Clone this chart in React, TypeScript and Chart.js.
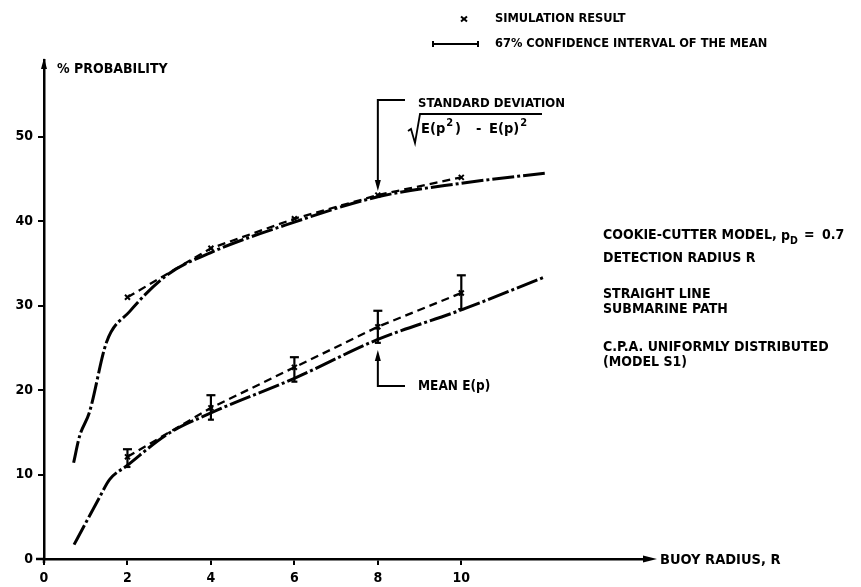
import React, { useEffect, useRef } from "react";
import { Chart, registerables } from "chart.js";

Chart.register(...registerables);

// ---- data ----
const radiusStd = [0.71, 0.85, 1.09, 1.5, 2.05, 2.94, 4, 6, 8, 10, 12];
const stdDev = [11.4, 14.5, 17.4, 25.7, 29.3, 33.6, 36.3, 39.9, 42.9, 44.5, 45.7];
const radiusMean = [0.72, 0.97, 1.33, 1.57, 2, 2.93, 4, 6, 8, 10, 12];
const meanP = [1.7, 4.0, 7.3, 9.4, 11.1, 14.7, 17.3, 21.4, 26.0, 29.5, 33.4];
const simRadius = [2, 4, 6, 8, 10];
const simStd = [31.0, 36.8, 40.3, 43.1, 45.2];
const simMean = [12.1, 17.9, 22.7, 27.5, 31.5];
const ciLow = [10.9, 16.5, 21.0, 25.6, 29.6];
const ciHigh = [13.0, 19.4, 23.9, 29.4, 33.6];
const xTicks = [0, 2, 4, 6, 8, 10];
const yTicks = [0, 10, 20, 30, 40, 50];

const FAMILY = '"DejaVu Sans Condensed", "Liberation Sans Narrow", sans-serif';
const font = (size: number) => `bold ${size}px ${FAMILY}`;
const FS = 13;

function drawText(ctx: CanvasRenderingContext2D, s: string, x: number, y: number, size = FS) {
  ctx.font = font(size);
  ctx.textAlign = "left";
  ctx.textBaseline = "middle";
  ctx.fillText(s, x, y);
  return x + ctx.measureText(s).width;
}

function line(ctx: CanvasRenderingContext2D, pts: number[][]) {
  ctx.beginPath();
  ctx.moveTo(pts[0][0], pts[0][1]);
  for (let i = 1; i < pts.length; i++) ctx.lineTo(pts[i][0], pts[i][1]);
  ctx.stroke();
}

function tri(ctx: CanvasRenderingContext2D, pts: number[][]) {
  ctx.beginPath();
  ctx.moveTo(pts[0][0], pts[0][1]);
  ctx.lineTo(pts[1][0], pts[1][1]);
  ctx.lineTo(pts[2][0], pts[2][1]);
  ctx.closePath();
  ctx.fill();
}

const overlay = {
  id: "overlay",
  beforeDraw(chart: any) {
    const c = chart.ctx;
    c.save();
    c.fillStyle = "#fff";
    c.fillRect(0, 0, chart.width, chart.height);
    c.restore();
  },
  afterDraw(chart: any) {
    const ctx: CanvasRenderingContext2D = chart.ctx;
    const xs = chart.scales.x;
    const ys = chart.scales.y;
    const a = chart.chartArea;
    ctx.save();
    ctx.strokeStyle = "#000";
    ctx.fillStyle = "#000";
    ctx.lineCap = "butt";

    // axis arrows and stubs
    ctx.lineWidth = 2.5;
    line(ctx, [[a.left - 8, a.bottom], [a.left, a.bottom]]);
    line(ctx, [[a.left, a.bottom], [a.left, a.bottom + 4]]);
    tri(ctx, [[a.left, a.top - 2], [a.left - 3, a.top + 9], [a.left + 3, a.top + 9]]);
    tri(ctx, [[a.right + 10, a.bottom], [a.right - 4, a.bottom - 3.5], [a.right - 4, a.bottom + 3.5]]);
    drawText(ctx, "% PROBABILITY", a.left + 13, 69, 14);
    drawText(ctx, "BUOY RADIUS, R", a.right + 13, a.bottom + 1, 14.5);

    // error bars (67% confidence interval)
    ctx.lineWidth = 2.2;
    simRadius.forEach((r, i) => {
      const px = xs.getPixelForValue(r);
      const t = ys.getPixelForValue(ciHigh[i]);
      const b = ys.getPixelForValue(ciLow[i]);
      line(ctx, [[px, t], [px, b]]);
      line(ctx, [[px - 4.5, t], [px + 4.5, t]]);
      line(ctx, [[px - 3, b], [px + 3, b]]);
    });

    // legend
    ctx.lineWidth = 2;
    const mx = 464, my = 19;
    line(ctx, [[mx - 3, my - 2.5], [mx + 3, my + 2.5]]);
    line(ctx, [[mx - 3, my + 2.5], [mx + 3, my - 2.5]]);
    drawText(ctx, "SIMULATION RESULT", 495, my, 12.7);
    const ly = 44;
    line(ctx, [[433, ly], [478, ly]]);
    line(ctx, [[433, ly - 3], [433, ly + 3]]);
    line(ctx, [[478, ly - 3], [478, ly + 3]]);
    drawText(ctx, "67% CONFIDENCE INTERVAL OF THE MEAN", 495, ly, 12.7);

    // standard deviation annotation
    const x8 = xs.getPixelForValue(8);
    ctx.lineWidth = 2;
    line(ctx, [[405, 100], [x8, 100], [x8, 182]]);
    tri(ctx, [[x8, 191], [x8 - 3, 180], [x8 + 3, 180]]);
    drawText(ctx, "STANDARD DEVIATION", 418, 104);
    ctx.lineWidth = 1.8;
    line(ctx, [[408, 131], [411, 129], [415, 143], [420, 114], [542, 114]]);
    let cx = drawText(ctx, "E(p", 421, 129, 14.5);
    cx = drawText(ctx, "2", cx + 1, 123, 11);
    drawText(ctx, ")", cx + 2, 129, 14.5);
    drawText(ctx, "-", 476, 129, 14.5);
    cx = drawText(ctx, "E(p)", 489, 129, 14.5);
    drawText(ctx, "2", cx + 1, 123, 11);

    // mean annotation
    ctx.lineWidth = 2;
    line(ctx, [[x8, 358], [x8, 386], [405, 386]]);
    tri(ctx, [[x8, 350], [x8 - 3, 361], [x8 + 3, 361]]);
    drawText(ctx, "MEAN E(p)", 418, 386, 13.5);

    // model description
    const tx = 603;
    const RS = 14;
    drawText(ctx, "COOKIE-CUTTER MODEL,", tx, 235, RS);
    cx = drawText(ctx, "p", 781, 236, RS);
    drawText(ctx, "D", cx, 241, 10.5);
    drawText(ctx, "=", 804, 235, RS);
    drawText(ctx, "0.7", 822, 235, RS);
    drawText(ctx, "DETECTION RADIUS R", tx, 258, RS);
    drawText(ctx, "STRAIGHT LINE", tx, 294, RS);
    drawText(ctx, "SUBMARINE PATH", tx, 309, RS);
    drawText(ctx, "C.P.A. UNIFORMLY DISTRIBUTED", tx, 347, RS);
    drawText(ctx, "(MODEL S1)", tx, 362, RS);

    ctx.restore();
  },
};

export default function App() {
  const ref = useRef<HTMLCanvasElement | null>(null);
  useEffect(() => {
    document.body.style.margin = "0";
    const canvas = ref.current!;
    const chart = new Chart(canvas, {
      type: "line",
      data: {
        datasets: [
          {
            label: "Standard deviation",
            data: radiusStd.map((x, i) => ({ x, y: stdDev[i] })),
            borderColor: "#000",
            borderWidth: 3,
            borderDash: [22, 3, 3, 3],
            pointRadius: 0,
            cubicInterpolationMode: "monotone",
            fill: false,
          },
          {
            label: "Mean E(p)",
            data: radiusMean.map((x, i) => ({ x, y: meanP[i] })),
            borderColor: "#000",
            borderWidth: 3,
            borderDash: [22, 3, 3, 3],
            pointRadius: 0,
            cubicInterpolationMode: "monotone",
            fill: false,
          },
          {
            label: "Simulation result (std)",
            data: simRadius.map((x, i) => ({ x, y: simStd[i] })),
            borderColor: "#000",
            borderWidth: 2.3,
            borderDash: [8, 5],
            pointStyle: "crossRot",
            pointRadius: 3.5,
            pointBorderWidth: 2,
            pointBorderColor: "#000",
            fill: false,
          },
          {
            label: "Simulation result (mean)",
            data: simRadius.map((x, i) => ({ x, y: simMean[i] })),
            borderColor: "#000",
            borderWidth: 2.3,
            borderDash: [8, 5],
            pointStyle: "crossRot",
            pointRadius: 3.5,
            pointBorderWidth: 2,
            pointBorderColor: "#000",
            fill: false,
          },
        ],
      },
      options: {
        animation: false,
        responsive: false,
        maintainAspectRatio: false,
        layout: { padding: { left: 0, top: 60, right: 214, bottom: 0 } },
        plugins: { legend: { display: false }, tooltip: { enabled: false } },
        scales: {
          x: {
            type: "linear",
            min: 0,
            max: 14.45,
            afterBuildTicks: (s: any) => {
              s.ticks = xTicks.map((v) => ({ value: v }));
            },
            afterFit: (s: any) => {
              s.height = 28;
            },
            grid: { display: true, drawOnChartArea: false, drawTicks: true, tickLength: 6, color: "#000", lineWidth: 2 },
            border: { display: true, color: "#000", width: 2.5 },
            ticks: { color: "#000", font: { family: FAMILY, size: 14, weight: "bold" }, padding: 5, maxRotation: 0, autoSkip: false },
          },
          y: {
            type: "linear",
            min: 0,
            max: 59.1,
            afterBuildTicks: (s: any) => {
              s.ticks = yTicks.map((v) => ({ value: v }));
            },
            afterFit: (s: any) => {
              s.width = 44;
            },
            grid: { display: true, drawOnChartArea: false, drawTicks: true, tickLength: 6, color: "#000", lineWidth: 2 },
            border: { display: true, color: "#000", width: 2.5 },
            ticks: { color: "#000", font: { family: FAMILY, size: 14, weight: "bold" }, padding: 5, autoSkip: false },
          },
        },
      },
      plugins: [overlay],
    } as any);
    return () => chart.destroy();
  }, []);
  return (
    <div style={{ position: "absolute", left: 0, top: 0, width: 861, height: 587 }}>
      <canvas ref={ref} width={861} height={587} style={{ width: 861, height: 587, display: "block" }} />
    </div>
  );
}
